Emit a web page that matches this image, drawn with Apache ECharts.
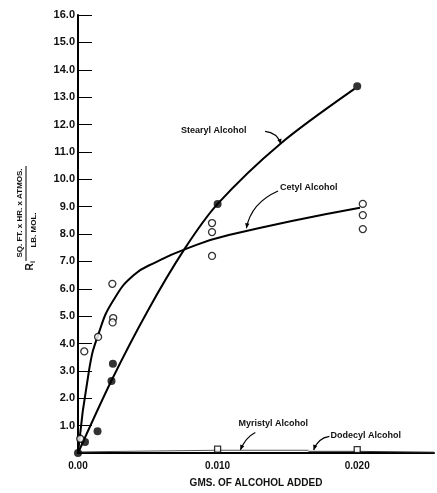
<!DOCTYPE html>
<html>
<head>
<meta charset="utf-8">
<script src="https://cdn.jsdelivr.net/npm/echarts@6/dist/echarts.min.js"></script>
<style>
  html, body { margin: 0; padding: 0; background: #fff; }
  #main { width: 437px; height: 493px; }
</style>
</head>
<body>
<div id="main"></div>
<script>
// 数据
var yTicks = ['1.0','2.0','3.0','4.0','5.0','6.0','7.0','8.0','9.0','10.0','11.0','12.0','13.0','14.0','15.0','16.0'];
var xTicks = ['0.00', '0.010', '0.020'];

// Stearyl Alcohol - 实心圆
var stearylPts = [[0,0],[0.0005,0.4],[0.0014,0.79],[0.0024,2.63],[0.0025,3.26],[0.010,9.1],[0.020,13.4]];
var stearylFit = [[0,0],[0.0024,2.65],[0.005,5.2],[0.0076,7.43],[0.010,9.1],[0.0145,11.3],[0.0198,13.3]];

// Cetyl Alcohol - 空心圆
var cetylPts = [[0.00016,0.52],[0.00045,3.71],[0.00144,4.24],[0.00246,6.18],[0.00252,4.93],[0.00248,4.77],
                [0.0096,8.4],[0.0096,8.07],[0.0096,7.2],[0.0204,9.1],[0.0204,8.69],[0.0204,8.18]];
var cetylFit = [[0,0],[0.0008,3.05],[0.0015,4.4],[0.0025,5.55],[0.004,6.5],[0.0057,7.0],
                [0.0076,7.43],[0.0108,7.96],[0.0202,8.96]];

// Myristyl / Dodecyl - 方块
var myristylPts = [[0.010,0.14],[0.020,0.12]];
var myristylFit = [[0,0.04],[0.010,0.1],[0.0165,0.1]];
var dodecylFit = [[0.0165,0.06],[0.020,0.06],[0.0255,0.03]];

var myChart = echarts.init(document.getElementById('main'));
var FONT = '"Liberation Sans", Arial, sans-serif';

var option = {
    backgroundColor: '#fff',
    animation: false,
    grid: { left: 78, right: 0, top: 15, bottom: 30, containLabel: false },
    xAxis: {
        type: 'value', min: 0, max: 0.0255, interval: 0.01,
        name: 'GMS. OF ALCOHOL ADDED', nameLocation: 'middle', nameGap: 25,
        nameTextStyle: { fontFamily: FONT, fontWeight: 'bold', fontSize: 10, color: '#111' },
        axisLine: { lineStyle: { color: '#000', width: 2 } },
        axisTick: { show: false },
        splitLine: { show: false },
        axisLabel: {
            margin: 8, fontFamily: FONT, fontWeight: 'bold', fontSize: 10, color: '#111',
            formatter: function (v) {
                var i = Math.round(v / 0.01);
                return Math.abs(v - i * 0.01) < 1e-9 ? (xTicks[i] || '') : '';
            }
        }
    },
    yAxis: {
        type: 'value', min: 0, max: 16, interval: 1,
        axisLine: { show: true, lineStyle: { color: '#000', width: 2 } },
        axisTick: { show: true, inside: true, length: 14, lineStyle: { color: '#000', width: 1 } },
        splitLine: { show: false },
        axisLabel: {
            margin: 3, fontFamily: FONT, fontWeight: 'bold', fontSize: 11, color: '#111',
            formatter: function (v) { return v === 0 ? '' : yTicks[v - 1]; }
        }
    },
    series: [
        { name: 'stearylFit', type: 'line', data: stearylFit, smooth: 0.3, showSymbol: false,
          lineStyle: { color: '#000', width: 2 }, z: 3 },
        { name: 'cetylFit', type: 'line', data: cetylFit, smooth: 0.5, showSymbol: false,
          lineStyle: { color: '#000', width: 2 }, z: 3 },
        { name: 'myristylFit', type: 'line', data: myristylFit, showSymbol: false,
          lineStyle: { color: '#555', width: 1 }, z: 3 },
        { name: 'dodecylFit', type: 'line', data: dodecylFit, showSymbol: false,
          lineStyle: { color: '#333', width: 1 }, z: 3 },
        { name: 'Stearyl', type: 'scatter', data: stearylPts, symbol: 'circle', symbolSize: 8,
          itemStyle: { color: '#000' }, z: 4 },
        { name: 'Cetyl', type: 'scatter', data: cetylPts, symbol: 'circle', symbolSize: 7,
          itemStyle: { color: '#fff', borderColor: '#000', borderWidth: 1.3 }, z: 4 },
        { name: 'Myristyl', type: 'scatter', data: myristylPts, symbol: 'rect', symbolSize: 6,
          itemStyle: { color: '#fff', borderColor: '#000', borderWidth: 1.3 }, z: 4 }
    ]
};
myChart.setOption(option);

// 注释 (数据坐标)
var notes = [
    { text: 'Stearyl Alcohol', at: [0.00738, 11.79], from: [0.0134, 11.75], ctrl: [0.01426, 11.71], to: [0.01454, 11.29] },
    { text: 'Cetyl Alcohol', at: [0.01447, 9.68], from: [0.01433, 9.57], ctrl: [0.01241, 9.14], to: [0.01206, 8.21] },
    { text: 'Myristyl Alcohol', at: [0.01149, 1.07], from: [0.0127, 0.75], ctrl: [0.0120, 0.57], to: [0.01163, 0.11] },
    { text: 'Dodecyl Alcohol', at: [0.01809, 0.64], from: [0.01801, 0.61], ctrl: [0.01716, 0.54], to: [0.01688, 0.11] }
];

var graphics = [];
notes.forEach(function (n) {
    var p = myChart.convertToPixel({ gridIndex: 0 }, n.at);
    var a = myChart.convertToPixel({ gridIndex: 0 }, n.from);
    var c = myChart.convertToPixel({ gridIndex: 0 }, n.ctrl);
    var b = myChart.convertToPixel({ gridIndex: 0 }, n.to);
    graphics.push({
        type: 'text', x: p[0], y: p[1],
        style: { text: n.text, fill: '#111', font: 'bold 9px ' + FONT, textVerticalAlign: 'middle', textAlign: 'left' }
    });
    graphics.push({
        type: 'bezierCurve',
        shape: { x1: a[0], y1: a[1], x2: b[0], y2: b[1], cpx1: c[0], cpy1: c[1] },
        style: { stroke: '#000', lineWidth: 1.2, fill: null }
    });
    // 箭头
    var dx = b[0] - c[0], dy = b[1] - c[1], len = Math.sqrt(dx * dx + dy * dy) || 1;
    dx /= len; dy /= len;
    var s = 5, w = 2.2;
    graphics.push({
        type: 'polygon',
        shape: { points: [[b[0], b[1]], [b[0] - dx * s - dy * w, b[1] - dy * s + dx * w], [b[0] - dx * s + dy * w, b[1] - dy * s - dx * w]] },
        style: { fill: '#000' }
    });
});

// 纵轴标题 R_i = SQ. FT. x HR. x ATMOS / LB. MOL.
graphics.push({
    type: 'group', x: 30, y: 267, rotation: Math.PI / 2,
    children: [
        { type: 'text', x: 0, y: 0, style: { text: 'R', font: 'bold 10px ' + FONT, fill: '#111', textAlign: 'center', textVerticalAlign: 'middle' } },
        { type: 'text', x: 5, y: 3, style: { text: 'i', font: 'bold 7px ' + FONT, fill: '#111', textAlign: 'center', textVerticalAlign: 'middle' } },
        { type: 'line', shape: { x1: 6, y1: -4, x2: 101, y2: -4 }, style: { stroke: '#000', lineWidth: 1 } },
        { type: 'text', x: 54, y: -10, style: { text: 'SQ. FT. x HR. x ATMOS.', font: 'bold 8px ' + FONT, fill: '#111', textAlign: 'center', textVerticalAlign: 'middle' } },
        { type: 'text', x: 37, y: 4, style: { text: 'LB. MOL.', font: 'bold 8px ' + FONT, fill: '#111', textAlign: 'center', textVerticalAlign: 'middle' } }
    ]
});

myChart.setOption({ graphic: graphics });
</script>
</body>
</html>
